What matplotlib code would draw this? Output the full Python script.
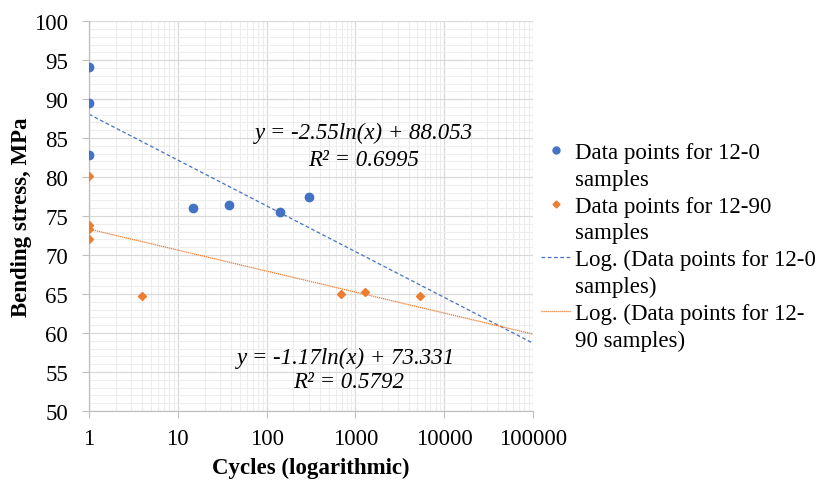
import numpy as np
import matplotlib
matplotlib.use("Agg")
import matplotlib.pyplot as plt
from matplotlib.lines import Line2D
from matplotlib.ticker import FixedLocator, NullFormatter, LogLocator

plt.rcParams['font.family'] = ['Liberation Serif', 'DejaVu Serif']

########## data ##########
cycles_0 = [1, 1, 1, 15, 38, 143, 300]
stress_0 = [94.1, 89.5, 82.8, 76.0, 76.4, 75.5, 77.5]

cycles_90 = [1, 1, 1, 1, 4, 680, 1280, 5400]
stress_90 = [80.2, 73.8, 73.3, 72.1, 64.7, 65.0, 65.3, 64.7]

# logarithmic trend lines (Excel): y = a*ln(x) + b
fit_0 = (-2.55, 88.053)
fit_90 = (-1.17, 73.331)
eq_0 = ["y = -2.55ln(x) + 88.053", "R² = 0.6995"]
eq_90 = ["y = -1.17ln(x) + 73.331", "R² = 0.5792"]

x_ticks = [1, 10, 100, 1000, 10000, 100000]
y_ticks = list(range(50, 101, 5))

legend_labels = ["Data points for 12-0", "samples",
                 "Data points for 12-90", "samples",
                 "Log. (Data points for 12-0", "samples)",
                 "Log. (Data points for 12-", "90 samples)"]

BLUE = "#4472C4"
ORANGE = "#ED7D31"

########## figure ##########
fig = plt.figure(figsize=(8.18, 4.81), dpi=100)
ax = fig.add_axes([0.1088, 0.1435, 0.5428, 0.8105])

ax.set_xscale('log')
ax.set_xlim(1, 100000)
ax.set_ylim(50, 100)

# grid
ax.xaxis.set_major_locator(FixedLocator(x_ticks))
ax.xaxis.set_minor_locator(LogLocator(base=10, subs=np.arange(2, 10)))
ax.xaxis.set_minor_formatter(NullFormatter())
ax.set_xticklabels([str(t) for t in x_ticks])
ax.yaxis.set_major_locator(FixedLocator(y_ticks))
ax.yaxis.set_minor_locator(FixedLocator(range(50, 101)))
ax.grid(which='minor', color='#ededed', linewidth=0.8, zorder=0)
ax.grid(which='major', color='#d9d9d9', linewidth=0.9, zorder=0)
ax.set_axisbelow(True)

for s in ['top', 'right']:
    ax.spines[s].set_visible(False)
for s in ['left', 'bottom']:
    ax.spines[s].set_color('#bfbfbf')
    ax.spines[s].set_linewidth(0.9)

ax.tick_params(which='major', length=5, color='#bfbfbf', labelsize=16.5)
ax.tick_params(which='minor', length=0)
ax.tick_params(axis='x', pad=7)
ax.tick_params(axis='y', pad=10)

# trend lines
xs = np.logspace(0, 5, 200)
ax.plot(xs, fit_0[0] * np.log(xs) + fit_0[1], color=BLUE, lw=0.9,
        linestyle=(0, (3, 2)), zorder=2)
ax.plot(xs, fit_90[0] * np.log(xs) + fit_90[1], color=ORANGE, lw=0.9,
        linestyle=(0, (1, 0.6)), zorder=2)

# points
ax.plot(cycles_0, stress_0, 'o', color=BLUE, markersize=6, zorder=3)
ax.plot(cycles_90, stress_90, 'D', color=ORANGE, markersize=4, zorder=3)

ax.set_xlabel("Cycles (logarithmic)", fontsize=16.5, fontweight='bold', labelpad=6)
ax.set_ylabel("Bending stress, MPa", fontsize=16.5, fontweight='bold', labelpad=1.5)

# equation labels, placed in pixel coords from top-left of the image
def px_text(x, y, s, **kw):
    fig.text(x / 818, 1 - y / 481, s, **kw)

for x, y, s in [(364, 133, eq_0[0]), (364, 160, eq_0[1]),
                (346, 358, eq_90[0]), (349, 383, eq_90[1])]:
    px_text(x, y, s, fontsize=16.5, style='italic', ha='center', va='center')

# legend: marker on the first line of each two-line entry
blank = Line2D([], [], linestyle='none')
handles = [Line2D([], [], marker='o', color=BLUE, linestyle='none', markersize=5), blank,
           Line2D([], [], marker='D', color=ORANGE, linestyle='none', markersize=3.5), blank,
           Line2D([], [], color=BLUE, lw=0.9, linestyle=(0, (3, 2))), blank,
           Line2D([], [], color=ORANGE, lw=0.9, linestyle=(0, (1, 0.6))), blank]
fig.legend(handles, legend_labels, loc='upper left', bbox_to_anchor=(541 / 818, 1 - 143 / 481),
           frameon=False, fontsize=16.5, labelspacing=0.25, handlelength=1.3,
           handletextpad=0.2, borderaxespad=0, borderpad=0)

fig.savefig("out.png", dpi=100)
